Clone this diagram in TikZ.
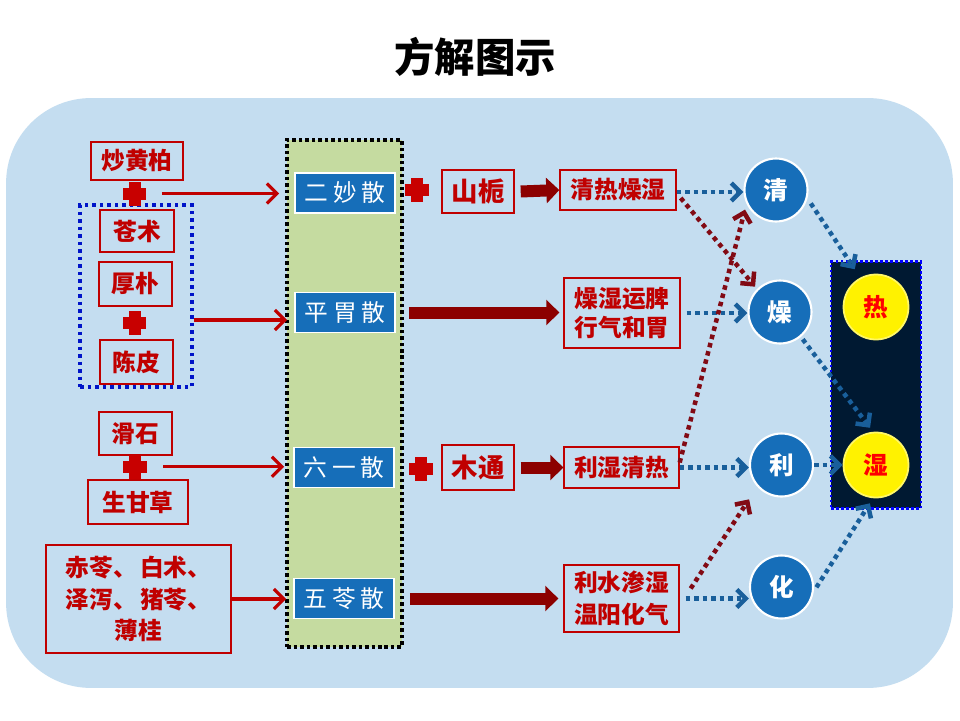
\documentclass[tikz,border=0pt]{standalone}
\usepackage{fontspec}
\setmainfont{Noto Sans CJK SC}
\usetikzlibrary{arrows.meta}
\definecolor{bgblue}{RGB}{196,221,240}
\definecolor{colgreen}{RGB}{197,219,160}
\definecolor{boxred}{RGB}{192,0,0}
\definecolor{plusred}{RGB}{200,0,0}
\definecolor{darkred}{RGB}{140,0,0}
\definecolor{dotred}{RGB}{130,10,20}
\definecolor{nodeblue}{RGB}{22,110,185}
\definecolor{dotblue}{RGB}{25,95,155}
\definecolor{navyfill}{RGB}{0,25,50}
\definecolor{grpblue}{RGB}{0,20,200}
\tikzset{
  bgpanel/.style={fill=bgblue, rounded corners=1.7cm, minimum width=18.94cm, minimum height=11.8cm, inner sep=0},
  column/.style={fill=colgreen, draw=black, line width=0.07cm, dash pattern=on 0.07cm off 0.06cm, minimum width=2.3cm, minimum height=10.14cm, inner sep=0},
  groupbox/.style={draw=grpblue, line width=0.07cm, dash pattern=on 0.07cm off 0.08cm, minimum width=2.24cm, minimum height=3.64cm, inner sep=0},
  navybox/.style={fill=navyfill, draw=blue, line width=0.05cm, dash pattern=on 0.05cm off 0.05cm, minimum width=1.8cm, minimum height=4.94cm, inner sep=0},
  redbox/.style={draw=boxred, line width=0.8pt, text=boxred, font=\bfseries\fontsize{13.5}{16}\selectfont, inner sep=0pt, align=center},
  herb/.style={fill=nodeblue, draw=white, line width=1pt, text=white, font=\fontsize{13.5}{16}\selectfont, minimum width=2cm, minimum height=0.8cm, inner sep=0},
  effect/.style={circle, fill=nodeblue, draw=white, line width=1.2pt, minimum size=1.26cm, text=white, font=\bfseries\fontsize{14}{16}\selectfont, inner sep=0},
  target/.style={circle, fill=yellow, draw=yellow!60!white, line width=1pt, minimum size=1.3cm, text=red, font=\bfseries\fontsize{14}{16}\selectfont, inner sep=0},
  crossmark/.style={minimum size=0.48cm, inner sep=0, path picture={
     \fill[plusred] ([xshift=-0.12cm]path picture bounding box.north) rectangle ([xshift=0.12cm]path picture bounding box.south);
     \fill[plusred] ([yshift=0.12cm]path picture bounding box.west) rectangle ([yshift=-0.12cm]path picture bounding box.east);}},
  redarrow/.style={draw=boxred, line width=1.8pt, -{Straight Barb[length=0.2cm, width=0.4cm]}},
  fatarrow/.style={draw=darkred, line width=0.24cm, -{Triangle[length=0.26cm, width=0.5cm]}},
  bdot/.style={draw=dotblue, line width=0.09cm, dash pattern=on 0.09cm off 0.08cm, -{Straight Barb[length=0.18cm, width=0.36cm]}},
  rdot/.style={draw=dotred, line width=0.09cm, dash pattern=on 0.09cm off 0.08cm, -{Straight Barb[length=0.18cm, width=0.36cm]}},
}
\newcommand{\hsp}{\hspace{0.1cm}}
\begin{document}
\begin{tikzpicture}[x=0.02cm, y=-0.02cm]
\useasboundingbox (0,0) rectangle (960,720);
\fill[white] (0,0) rectangle (960,720);
\node[bgpanel] (panel) at (479.5,393) {};
\node[font=\bfseries\fontsize{23}{26}\selectfont] (title) at (475,57) {方解图示};

% containers
\node[column] (col) at (344.5,393.5) {};
\node[groupbox] (grp) at (136,296) {};
\node[navybox] (nbox) at (876,385) {};

% formula boxes
\node[herb] (ermiao) at (345,193) {二\hsp 妙\hsp 散};
\node[herb] (pingwei) at (345,312.5) {平\hsp 胃\hsp 散};
\node[herb] (liuyi) at (344,467.5) {六\hsp 一\hsp 散};
\node[herb] (wuling) at (344,598.5) {五\hsp 苓\hsp 散};

% left herbs
\node[redbox, minimum width=1.84cm, minimum height=0.76cm] (hbb) at (137,161) {炒黄柏};
\node[crossmark] (p1) at (134.5,193.5) {};
\node[redbox, minimum width=1.48cm, minimum height=0.84cm] (cz) at (137,231) {苍术};
\node[redbox, minimum width=1.46cm, minimum height=0.88cm] (hp) at (135.5,284) {厚朴};
\node[crossmark] (p2) at (134.5,323) {};
\node[redbox, minimum width=1.46cm, minimum height=0.88cm] (cp) at (136.5,362) {陈皮};
\node[redbox, minimum width=1.46cm, minimum height=0.86cm] (hs) at (135.5,433.5) {滑石};
\node[crossmark] (p3) at (135,466.7) {};
\node[redbox, minimum width=2.0cm, minimum height=0.88cm] (sgc) at (138,502) {生甘草};
\node[redbox, minimum width=3.7cm, minimum height=2.16cm, font=\bfseries\fontsize{13.5}{18}\selectfont] (wl) at (138.5,599) {赤苓、\hspace{2pt}白术、\\泽泻、\hspace{2pt}猪苓、\\薄桂};

% middle
\node[crossmark] (p4) at (417,190) {};
\node[redbox, minimum width=1.44cm, minimum height=0.86cm, font=\bfseries\fontsize{15}{17}\selectfont] (sz) at (478,191.5) {山栀};
\node[redbox, minimum width=2.32cm, minimum height=0.8cm] (qrzs) at (618,190) {清热燥湿};
\node[redbox, minimum width=2.32cm, minimum height=1.4cm, font=\bfseries\fontsize{13.5}{16.5}\selectfont] (zsyp) at (622,313) {燥湿运脾\\行气和胃};
\node[crossmark] (p5) at (421,468.5) {};
\node[redbox, minimum width=1.44cm, minimum height=0.9cm, font=\bfseries\fontsize{15}{17}\selectfont] (mt) at (478,467.5) {木通};
\node[redbox, minimum width=2.3cm, minimum height=0.82cm] (lsqr) at (621.5,467.5) {利湿清热};
\node[redbox, minimum width=2.3cm, minimum height=1.34cm, font=\bfseries\fontsize{13.5}{18}\selectfont] (lssh) at (621.5,598.5) {利水渗湿\\温阳化气};

% effect circles
\node[effect] (qing) at (776,190) {清};
\node[effect] (zao) at (780,312) {燥};
\node[effect] (li) at (781.5,465) {利};
\node[effect] (hua) at (781.5,587) {化};
\node[target] (re) at (876,307) {热};
\node[target] (shi) at (876,465) {湿};

% red input arrows
\draw[redarrow, shorten >=0.3cm] ([xshift=0.3cm]p1.east) -- (p1.east -| ermiao.west);
\draw[redarrow, shorten >=0.14cm] ([yshift=-0.48cm]grp.east) -- ([yshift=-0.48cm]grp.east -| pingwei.west);
\draw[redarrow, shorten >=0.18cm] ([xshift=0.32cm]p3.east) -- (p3.east -| liuyi.west);
\draw[redarrow, shorten >=0.14cm] (wl.east) -- (wl.east -| wuling.west);

% fat arrows
\draw[fatarrow] ([xshift=0.12cm]sz.east) -- (qrzs.west);
\draw[fatarrow, shorten >=0.08cm] ([xshift=0.26cm]pingwei.east) -- (pingwei.east -| zsyp.west);
\draw[fatarrow] ([xshift=0.12cm]mt.east) -- (mt.east -| lsqr.west);
\draw[fatarrow, shorten >=0.1cm] ([xshift=0.3cm]wuling.east) -- (wuling.east -| lssh.west);

% dotted connectors
\draw[bdot] ([yshift=-0.04cm]qrzs.east) -- ([yshift=-0.04cm]qrzs.east -| qing.west);
\draw[rdot, shorten >=0.06cm] ([shift={(0.08cm,-0.16cm)}]qrzs.east) -- (zao.135);
\draw[bdot] ([xshift=0.12cm]zsyp.east) -- (zsyp.east -| zao.west);
\draw[rdot, shorten >=0.12cm] ([yshift=0.1cm]lsqr.east) -- (qing.205);
\draw[bdot] (lsqr.east) -- (lsqr.east -| li.west);
\draw[rdot, shorten >=0.3cm] ([shift={(0.22cm,0.2cm)}]lssh.east) -- (li.222);
\draw[bdot] ([xshift=0.12cm]lssh.east) -- (lssh.east -| hua.west);
\draw[bdot, shorten <=0.12cm, shorten >=0.2cm] (qing.-15) -- (re.118);
\draw[bdot, shorten <=0.06cm, shorten >=0.1cm] (zao.-50) -- (shi.95);
\draw[bdot] (li.east) -- (shi.west);
\draw[bdot, shorten <=0.1cm, shorten >=0.12cm] (hua.-8) -- (shi.265);
\end{tikzpicture}
\end{document}
